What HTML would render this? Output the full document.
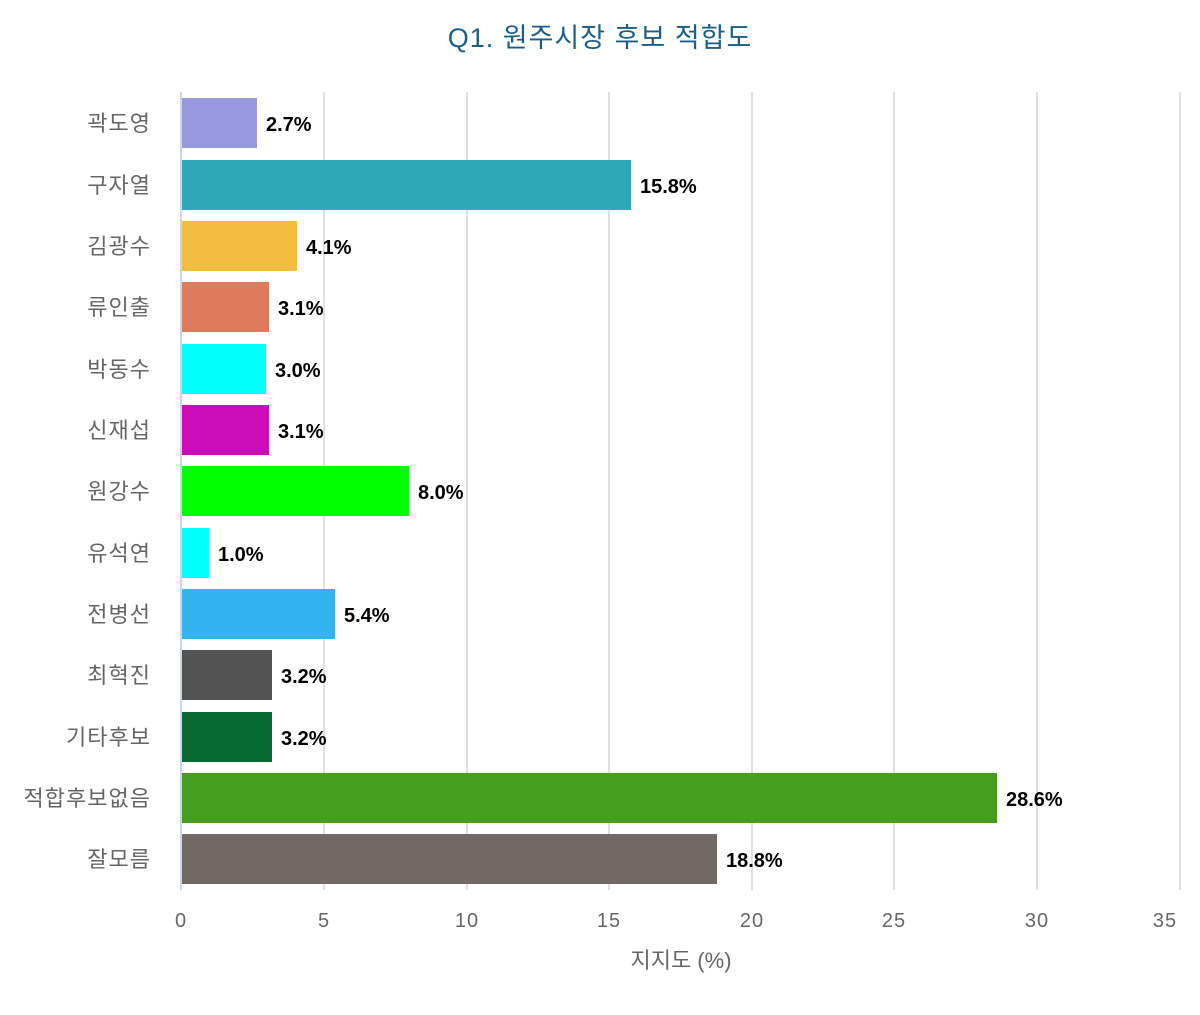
<!DOCTYPE html>
<html><head><meta charset="utf-8"><style>
body{margin:0;background:#fff;}
svg text{font-family:"Liberation Sans","Noto Sans CJK KR",sans-serif;}
</style></head><body>
<svg width="1200" height="1010" xmlns="http://www.w3.org/2000/svg">
<text x="600" y="47" text-anchor="middle" font-size="27" letter-spacing="1" fill="#1a5f8a">Q1. 원주시장 후보 적합도</text>
<g stroke="#e0e0e0" stroke-width="2">
<line x1="324" y1="92" x2="324" y2="890"/><line x1="467" y1="92" x2="467" y2="890"/>
<line x1="609" y1="92" x2="609" y2="890"/><line x1="752" y1="92" x2="752" y2="890"/>
<line x1="894" y1="92" x2="894" y2="890"/><line x1="1037" y1="92" x2="1037" y2="890"/>
<line x1="1180" y1="92" x2="1180" y2="890"/>
</g>
<line x1="181" y1="92" x2="181" y2="890" stroke="#ccd6eb" stroke-width="2"/>
<g font-size="20" fill="#666" text-anchor="middle" letter-spacing="1">
<text x="181" y="927">0</text><text x="324" y="927">5</text><text x="467" y="927">10</text>
<text x="609" y="927">15</text><text x="752" y="927">20</text><text x="894" y="927">25</text>
<text x="1037" y="927">30</text><text x="1165" y="927">35</text>
</g>
<text x="681" y="968" text-anchor="middle" font-size="22" fill="#666">지지도 (%)</text>
<g font-size="22" fill="#666" text-anchor="end" letter-spacing="1">
<text x="151" y="131">곽도영</text><text x="151" y="193">구자열</text><text x="151" y="254">김광수</text>
<text x="151" y="315">류인출</text><text x="151" y="377">박동수</text><text x="151" y="438">신재섭</text>
<text x="151" y="499">원강수</text><text x="151" y="561">유석연</text><text x="151" y="622">전병선</text>
<text x="151" y="683">최혁진</text><text x="151" y="745">기타후보</text><text x="151" y="806">적합후보없음</text>
<text x="151" y="867">잘모름</text>
</g>
<g>
<rect x="182" y="98" width="75" height="50" fill="#9999e0"/>
<rect x="182" y="160" width="449" height="50" fill="#31a8b8"/>
<rect x="182" y="221" width="115" height="50" fill="#f4bd40"/>
<rect x="182" y="282" width="87" height="50" fill="#de7b5e"/>
<rect x="182" y="344" width="84" height="50" fill="#00ffff"/>
<rect x="182" y="405" width="87" height="50" fill="#cc0cb8"/>
<rect x="182" y="466" width="227" height="50" fill="#00ff00"/>
<rect x="182" y="528" width="27" height="50" fill="#00ffff"/>
<rect x="182" y="589" width="153" height="50" fill="#31b4ef"/>
<rect x="182" y="650" width="90" height="50" fill="#535353"/>
<rect x="182" y="712" width="90" height="50" fill="#066b33"/>
<rect x="182" y="773" width="815" height="50" fill="#469e1f"/>
<rect x="182" y="834" width="535" height="50" fill="#726866"/>
</g>
<g font-size="20" font-weight="bold" fill="#000">
<text x="266" y="131">2.7%</text><text x="640" y="193">15.8%</text><text x="306" y="254">4.1%</text>
<text x="278" y="315">3.1%</text><text x="275" y="377">3.0%</text><text x="278" y="438">3.1%</text>
<text x="418" y="499">8.0%</text><text x="218" y="561">1.0%</text><text x="344" y="622">5.4%</text>
<text x="281" y="683">3.2%</text><text x="281" y="745">3.2%</text><text x="1006" y="806">28.6%</text>
<text x="726" y="867">18.8%</text>
</g>
</svg>
</body></html>
